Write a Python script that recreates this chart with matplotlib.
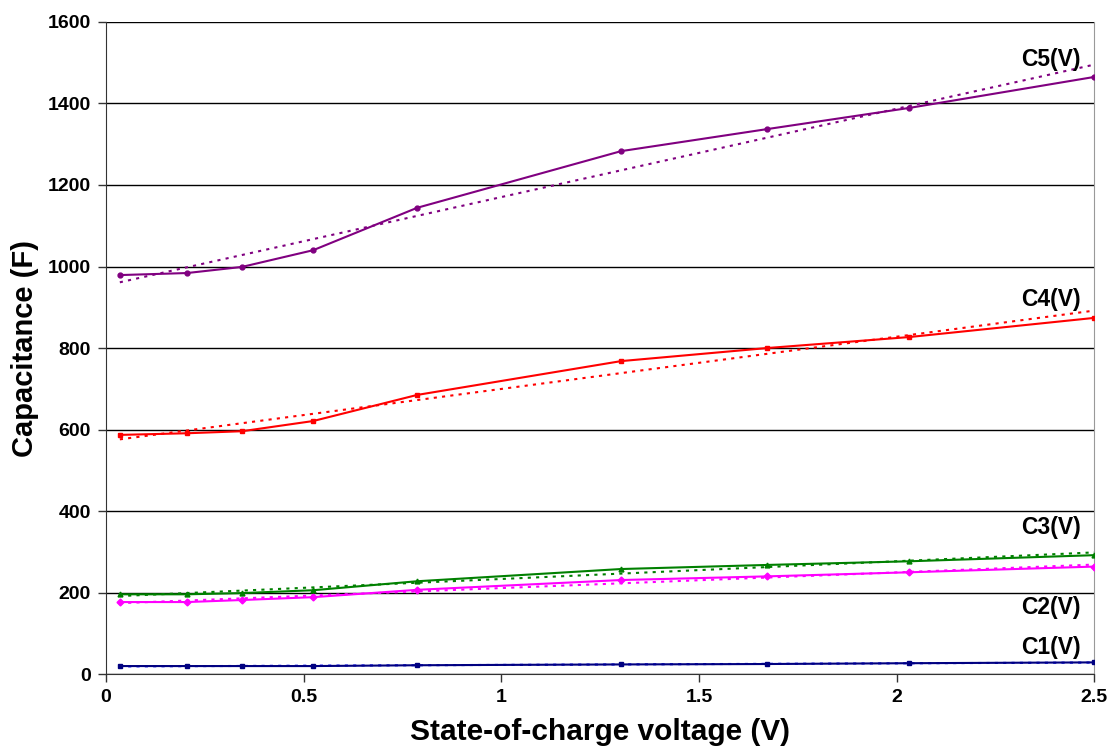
import matplotlib.pyplot as plt
import numpy as np

plt.rcParams['font.family'] = ['Liberation Sans', 'DejaVu Sans']
plt.rcParams['font.weight'] = 'bold'

# state-of-charge voltages (V)
soc = [0.035, 0.205, 0.344, 0.524, 0.787, 1.303, 1.672, 2.032, 2.5]

# capacitance (F) of each branch
c1 = [20, 20, 20, 20, 22, 24, 25, 27, 29]
c2 = [177, 177, 182, 189, 207, 231, 240, 250, 264]
c3 = [196, 196, 199, 206, 228, 258, 268, 277, 292]
c4 = [587, 591, 596, 621, 685, 768, 800, 827, 874]
c5 = [979, 984, 999, 1040, 1144, 1283, 1337, 1389, 1465]

names = ['C1(V)', 'C2(V)', 'C3(V)', 'C4(V)', 'C5(V)']
line_colors = ['#000080', '#ff00ff', '#008000', '#ff0000', '#800080']
trend_colors = ['#0000ff', '#ff00ff', '#008000', '#ff0000', '#800080']
markers = ['s', 'D', '^', 's', 'o']
label_y = [66, 164, 361, 918, 1507]

fig = plt.figure(figsize=(11.11, 7.55), dpi=100)
ax = fig.add_axes([0.0954, 0.107, 0.8896, 0.864])

x = np.array(soc)
for vals, name, lc, tc, m, ly in zip([c1, c2, c3, c4, c5], names, line_colors,
                                     trend_colors, markers, label_y):
    ax.plot(x, vals, color=lc, lw=1.5, marker=m, ms=3.5, mec=lc, mfc=lc, zorder=3)
    # linear trendline
    k, b = np.polyfit(x, vals, 1)
    ax.plot(x[[0, -1]], k * x[[0, -1]] + b, color=tc, lw=1.5, ls=(0, (1.5, 2.5)), zorder=2)
    ax.text(2.465, ly, name, ha='right', va='center', fontsize=16.5, fontweight='bold')

ax.set_xlim(0, 2.5)
ax.set_ylim(0, 1600)
ax.set_xticks([0, 0.5, 1, 1.5, 2, 2.5])
ax.set_xticklabels(['0', '0.5', '1', '1.5', '2', '2.5'])
ax.set_yticks(range(0, 1601, 200))
ax.yaxis.grid(True, color='black', lw=1)
ax.set_axisbelow(True)

ax.spines['top'].set_visible(False)
ax.spines['right'].set_color('#999999')
ax.spines['left'].set_color('#333333')
ax.spines['bottom'].set_color('#333333')
ax.tick_params(direction='out', length=6, width=1, labelsize=14, pad=5, colors='#333333',
               labelcolor='black')

ax.set_xlabel('State-of-charge voltage (V)', fontsize=21.5, fontweight='bold', labelpad=8)
ax.set_ylabel('Capacitance (F)', fontsize=21, fontweight='bold', labelpad=6)

fig.savefig('out.png', dpi=100)
